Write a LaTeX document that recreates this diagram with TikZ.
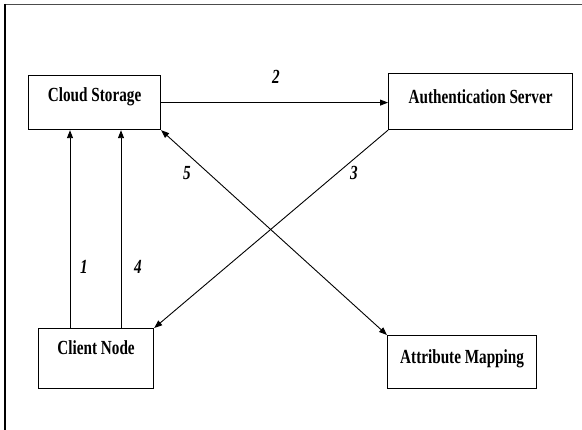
\documentclass[tikz,border=0pt]{standalone}
\usepackage{fontspec}
\setmainfont{Liberation Serif}
\newfontfamily\boxfont[FakeStretch=0.76]{Liberation Serif}
\usetikzlibrary{arrows.meta}
\tikzset{
  blk/.style={draw, line width=1.2pt, inner sep=0pt, anchor=north west,
    font=\boxfont\fontsize{20}{22}\selectfont\bfseries},
  link/.style={line width=0.9pt, -{Triangle[length=8pt,width=6pt]}},
  num/.style={font=\boxfont\fontsize{20}{22}\selectfont\bfseries\itshape}
}
\begin{document}
\begin{tikzpicture}[x=1pt,y=-1pt]
  \useasboundingbox (0,0) rectangle (582,430);
  % page frame
  \draw[line width=1.5pt, black!70] (4,4.5) -- (582,4.5);
  \draw[line width=1.2pt] (5,4) -- (5,430);

  % components
  \node[blk, minimum width=132pt, text height=26pt, text depth=28pt] (cs) at (28,75) {Cloud Storage};
  \node[blk, minimum width=184pt, text height=29.5pt, text depth=26.5pt] (as) at (388,73) {Authentication Server};
  \node[blk, minimum width=115pt, text height=26pt, text depth=34pt] (cn) at (38,328) {Client Node};
  \node[blk, minimum width=149pt, text height=27.5pt, text depth=25.5pt] (am) at (387,335) {Attribute Mapping};

  % message flow
  \draw[link] ([xshift=32pt]cn.north west) -- ([xshift=32pt]cn.north west |- cs.south);
  \draw[link] ([xshift=83pt]cn.north west) -- ([xshift=83pt]cn.north west |- cs.south);
  \draw[link] (cs.east) -- (as.west |- cs.east);
  \draw[link] (as.south west) -- (cn.north east);
  \draw[link, {Triangle[length=8pt,width=6pt]}-{Triangle[length=8pt,width=6pt]}] (cs.south east) -- (am.north west);

  % step numbers
  \node[num] (n1) at (84,267) {1};
  \node[num] (n2) at (276,77) {2};
  \node[num] (n3) at (354,173) {3};
  \node[num] (n4) at (138,267) {4};
  \node[num] (n5) at (187,173) {5};
\end{tikzpicture}
\end{document}
